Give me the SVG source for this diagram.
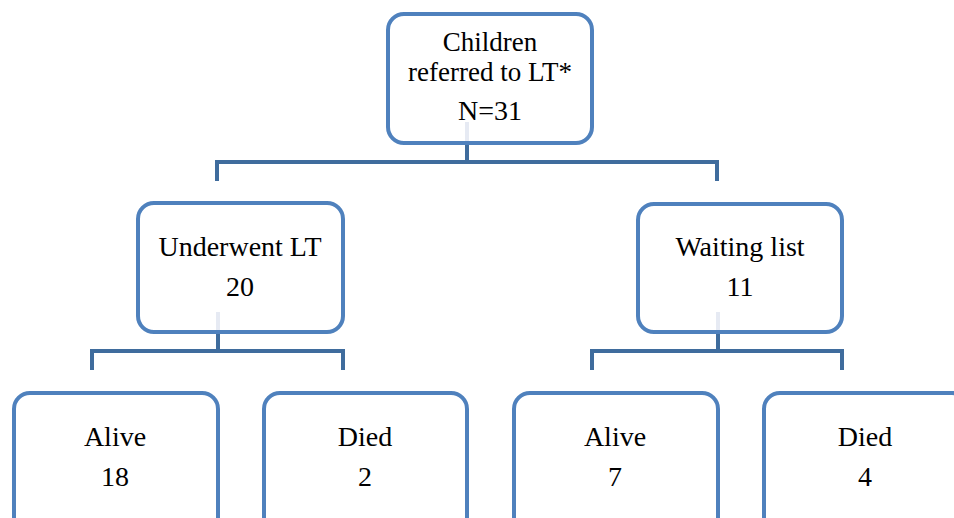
<svg xmlns="http://www.w3.org/2000/svg" width="954" height="518" viewBox="0 0 954 518">
<style>
.box{fill:#ffffff;stroke:#4f81bd;stroke-width:4}
.t{font-family:"Liberation Serif","DejaVu Serif",serif;font-size:28px;fill:#000000;text-anchor:middle}
.s{font-size:27px}
.c{fill:none;stroke:#3f6c9d;stroke-width:4}
.f{fill:none;stroke:#e6eaf3;stroke-width:4}
</style>
<rect width="954" height="518" fill="#ffffff"/>
<g id="connectors">
<polyline class="c" points="467,143 467,162"/>
<polyline class="c" points="217,181 217,162 717,162 717,181"/>
<polyline class="c" points="218,333 218,351"/>
<polyline class="c" points="92,370 92,351 343,351 343,370"/>
<polyline class="c" points="718,333 718,351"/>
<polyline class="c" points="592,370 592,351 842,351 842,370"/>
</g>
<g id="n-root">
<rect class="box" x="388" y="14" width="204" height="129" rx="16"/>
<line class="f" x1="467" y1="122" x2="467" y2="141"/>
<text class="t s" x="490" y="51">Children</text>
<text class="t s" x="490" y="81">referred to LT*</text>
<text class="t" x="490" y="120">N=31</text>
</g>
<g id="n-underwent">
<rect class="box" x="138" y="203" width="205" height="129" rx="16"/>
<line class="f" x1="218" y1="312" x2="218" y2="330"/>
<text class="t" x="240" y="256">Underwent LT</text>
<text class="t" x="240" y="296">20</text>
</g>
<g id="n-waiting">
<rect class="box" x="638" y="204" width="204" height="128" rx="16"/>
<line class="f" x1="718" y1="312" x2="718" y2="330"/>
<text class="t" x="740" y="256">Waiting list</text>
<text class="t" x="740" y="296">11</text>
</g>
<g id="n-alive1">
<rect class="box" x="14" y="393" width="204" height="140" rx="16"/>
<text class="t" x="115" y="446">Alive</text>
<text class="t" x="115" y="486">18</text>
</g>
<g id="n-died1">
<rect class="box" x="264" y="393" width="203" height="140" rx="16"/>
<text class="t" x="365" y="446">Died</text>
<text class="t" x="365" y="486">2</text>
</g>
<g id="n-alive2">
<rect class="box" x="514" y="393" width="204" height="140" rx="16"/>
<text class="t" x="615" y="446">Alive</text>
<text class="t" x="615" y="486">7</text>
</g>
<g id="n-died2">
<rect class="box" x="764" y="393" width="204" height="140" rx="16"/>
<text class="t" x="865" y="446">Died</text>
<text class="t" x="865" y="486">4</text>
</g>
</svg>
